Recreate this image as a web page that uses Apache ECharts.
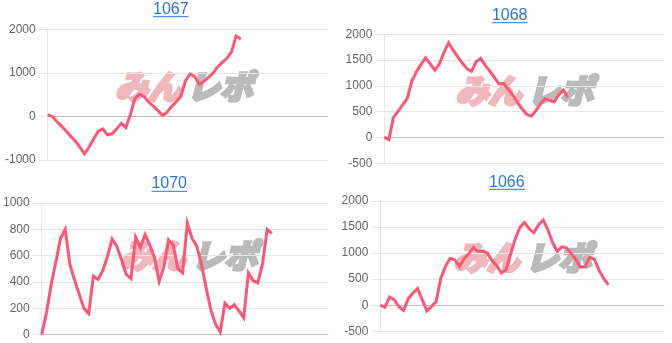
<!DOCTYPE html>
<html><head><meta charset="utf-8">
<script src="https://cdn.jsdelivr.net/npm/echarts@6/dist/echarts.min.js"></script>
<style>html,body{margin:0;padding:0;background:#fff}#c{width:672px;height:343px}</style>
</head><body><div id="c"></div>
<script>
// ---- data ----
const categories = ['1','2','3','4','5','6','7','8','9','10','11','12','13','14','15','16','17','18','19','20',
  '21','22','23','24','25','26','27','28','29','30','31','32','33','34','35','36','37','38','39','40',
  '41','42','43','44','45','46','47','48','49','50','51','52','53','54','55','56','57','58','59','60','61','62'];
const titles = ['1067', '1068', '1070', '1066'];
const s1067 = [40, 0, -117, -221, -336, -454, -564, -705, -861, -707, -519, -341, -286, -423, -398, -286, -159, -257, 42, 416, 510, 453, 326, 234, 133, 23, 100, 231, 338, 463, 824, 976, 914, 735, 804, 896, 996, 1140, 1239, 1335, 1477, 1850, 1780];
const s1068 = [10, -40, 391, 505, 632, 756, 1092, 1273, 1416, 1545, 1428, 1306, 1424, 1652, 1835, 1692, 1561, 1443, 1333, 1280, 1468, 1534, 1399, 1286, 1161, 1040, 1047, 935, 818, 683, 556, 449, 411, 515, 649, 752, 719, 689, 826, 919, 782];
const s1070 = [0, 164, 377, 549, 730, 800, 533, 414, 306, 200, 160, 444, 420, 488, 594, 725, 671, 567, 458, 425, 740, 660, 760, 681, 586, 405, 517, 720, 680, 500, 470, 848, 731, 672, 538, 357, 187, 80, 20, 238, 200, 229, 180, 130, 470, 410, 394, 537, 800, 770];
const s1066 = [0, -40, 158, 105, -30, -100, 125, 235, 320, 109, -110, -26, 70, 520, 746, 900, 870, 745, 891, 986, 1110, 1030, 1040, 1000, 857, 757, 620, 680, 984, 1278, 1497, 1587, 1465, 1390, 1548, 1636, 1447, 1203, 1035, 1120, 1100, 994, 877, 730, 740, 920, 880, 668, 511, 390];
const ticks1067 = [-1000, 0, 1000, 2000];
const ticks1068 = [-500, 0, 500, 1000, 1500, 2000];
const ticks1070 = [0, 200, 400, 600, 800, 1000];
const ticks1066 = [-500, 0, 500, 1000, 1500, 2000];
const watermarkA = 'みん';
const watermarkB = 'レポ';

// ---- layout ----
const seriesList = [s1067, s1068, s1070, s1066];
const tickList = [ticks1067, ticks1068, ticks1070, ticks1066];
const panels = [
  {grid:{left:47.7, top:29.3, width:280.3, height:130.7}, t:{x:170.8, y:9.5, ul:16.7}, m:{x:184, y:86}},
  {grid:{left:384.3, top:34.3, width:280, height:129}, t:{x:509.7, y:15.3, ul:22.7}, m:{x:524.5, y:90}},
  {grid:{left:41.7, top:203, width:286.6, height:131.7}, t:{x:169.2, y:183.7, ul:191.3}, m:{x:188.5, y:255.5}},
  {grid:{left:380.3, top:201, width:284, height:130.3}, t:{x:506.8, y:182.5, ul:189.3}, m:{x:522.5, y:257}}
];
const LIGHT = '#e6e6e6', DARK = '#c0c0c0', LINK = '#2a77d4', RED = '#ff5577';
const FONT = '"Liberation Sans", Arial, Helvetica, sans-serif';
const WFONT = 'italic bold 33px "Noto Sans CJK JP", sans-serif';
const PINK = '#f0b8bc', GRAY = '#bababa';

const grids = [], xAxes = [], yAxes = [], series = [], graphics = [];
panels.forEach((p, i) => {
  const ticks = tickList[i];
  grids.push(Object.assign({containLabel:false}, p.grid));
  xAxes.push({
    type:'category', gridIndex:i, data:categories, boundaryGap:false,
    axisLine:{show:false}, axisTick:{show:false}, axisLabel:{show:false}, splitLine:{show:false}
  });
  yAxes.push({
    type:'value', gridIndex:i, min:ticks[0], max:ticks[ticks.length-1], interval:ticks[1]-ticks[0],
    axisLine:{show:true, lineStyle:{color:LIGHT, width:1}},
    axisTick:{show:true, length:9, lineStyle:{color:LIGHT}},
    axisLabel:{color:'#666', fontSize:12, fontFamily:FONT, margin:12, formatter:v => String(v)},
    splitLine:{show:true, lineStyle:{color:ticks.map(t => t === 0 ? DARK : LIGHT), width:1}}
  });
  series.push({
    type:'line', xAxisIndex:i, yAxisIndex:i, data:seriesList[i], symbol:'none', showSymbol:false,
    lineStyle:{color:RED, width:3, join:'miter'}, z:5, silent:true
  });
  graphics.push({
    type:'text', z:10, style:{text:titles[i], x:p.t.x, y:p.t.y, align:'center', verticalAlign:'middle',
      font:'16px ' + FONT, fill:LINK}
  });
  graphics.push({
    type:'line', z:10, shape:{x1:p.t.x-17.8, y1:p.t.ul, x2:p.t.x+17.8, y2:p.t.ul},
    style:{stroke:LINK, lineWidth:1}
  });
  graphics.push({
    type:'text', z:-1, style:{text:watermarkA, x:p.m.x-3, y:p.m.y, align:'right', verticalAlign:'middle',
      font:WFONT, fill:PINK, stroke:PINK, lineWidth:3.5, lineJoin:'round'}
  });
  graphics.push({
    type:'text', z:-1, style:{text:watermarkB, x:p.m.x+3, y:p.m.y, align:'left', verticalAlign:'middle',
      font:WFONT, fill:GRAY, stroke:GRAY, lineWidth:3.5, lineJoin:'round'}
  });
});

const chart = echarts.init(document.getElementById('c'), null, {renderer:'canvas'});
chart.setOption({
  animation:false, backgroundColor:'#fff',
  grid:grids, xAxis:xAxes, yAxis:yAxes, series:series, graphic:graphics
});
</script></body></html>
